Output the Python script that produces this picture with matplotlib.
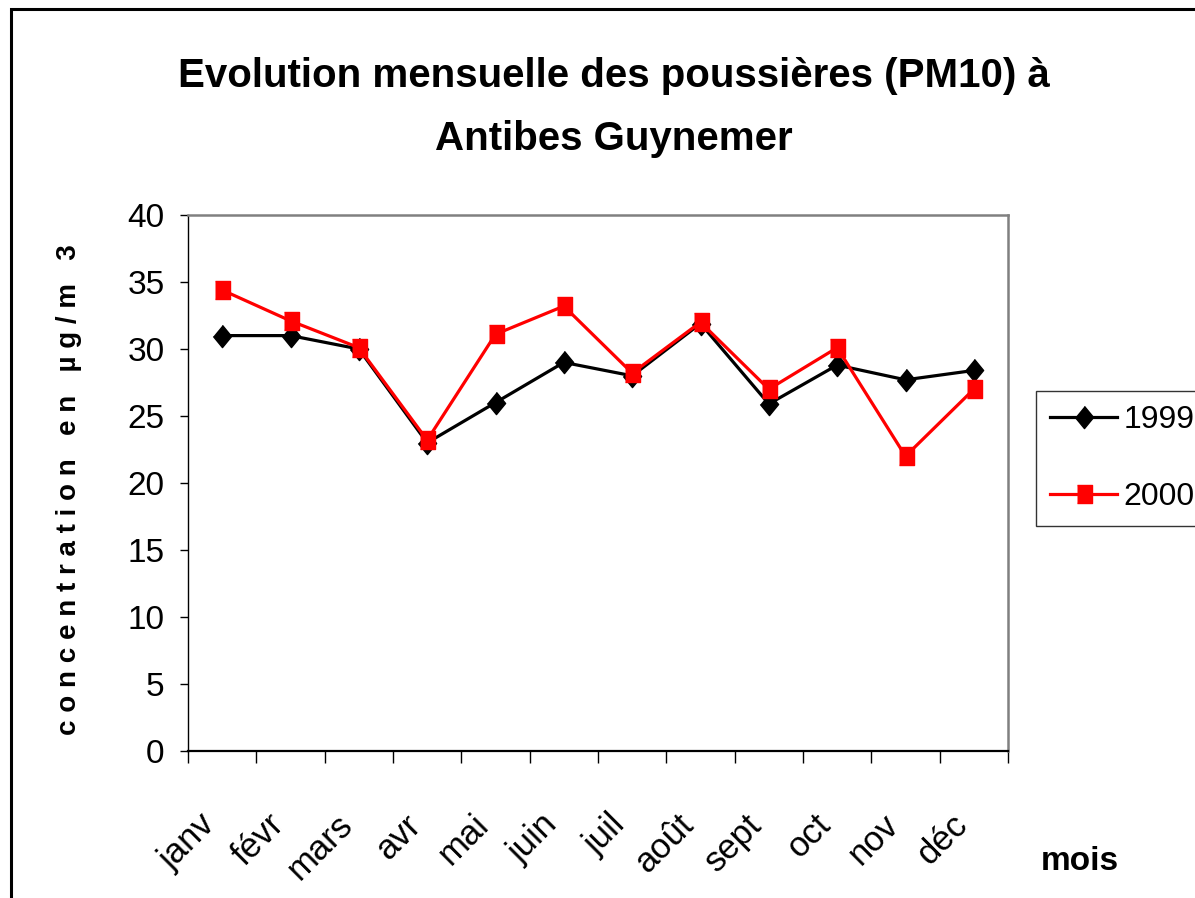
import numpy as np
import matplotlib
matplotlib.use("Agg")
import matplotlib.pyplot as plt
from matplotlib import font_manager
from matplotlib.patches import Rectangle

mois = ['janv', 'févr', 'mars', 'avr', 'mai', 'juin', 'juil', 'août', 'sept', 'oct', 'nov', 'déc']
pm10_1999 = [31.0, 31.0, 30.0, 23.0, 26.0, 29.0, 28.0, 31.9, 25.9, 28.8, 27.7, 28.4]
pm10_2000 = [34.4, 32.1, 30.1, 23.2, 31.1, 33.2, 28.2, 32.0, 27.0, 30.1, 22.0, 27.0]
yticks = [0, 5, 10, 15, 20, 25, 30, 35, 40]

# police etroite si dispo (le graphique d'origine est en Arial Narrow)
noms = {f.name for f in font_manager.fontManager.ttflist}
if 'Liberation Sans Narrow' in noms:
    etroite = ['Liberation Sans Narrow', 'DejaVu Sans']
    t_titre, t_ticks, t_xt, t_leg = 35, 26, 26, 28
else:
    etroite = ['Liberation Sans', 'DejaVu Sans']
    t_titre, t_ticks, t_xt, t_leg = 29, 24, 25, 23
large = ['Liberation Sans', 'DejaVu Sans']

fig = plt.figure(figsize=(11.95, 8.98), dpi=100)
ax = fig.add_axes([188/1195, 1-751/898, 820/1195, 536/898])

# marqueurs un peu plus hauts que larges, comme dans l'image
losange = [(0, 0.5), (0.41, 0), (0, -0.5), (-0.41, 0)]
carre = [(-0.4, -0.5), (0.4, -0.5), (0.4, 0.5), (-0.4, 0.5)]

x = np.arange(len(mois))
ax.plot(x, pm10_1999, color='black', lw=2.3, marker=losange, markersize=16,
        markerfacecolor='black', markeredgecolor='black', label='1999', zorder=3)
ax.plot(x, pm10_2000, color='red', lw=2.3, marker=carre, markersize=13.5,
        markerfacecolor='red', markeredgecolor='red', label='2000', zorder=4)

ax.set_xlim(-0.5, 11.5)
ax.set_ylim(0, 40)
ax.set_yticks(yticks)
ax.set_yticklabels([str(v) for v in yticks], family=etroite, fontsize=t_ticks)
ax.tick_params(axis='y', direction='out', length=5.8, width=1, pad=11)

ax.set_xticks(x)
ax.set_xticklabels(mois, family=etroite, fontsize=t_xt, rotation=45, ha='right')
ax.set_xticks(np.arange(-0.5, 12, 1), minor=True)
ax.tick_params(axis='x', which='major', length=0, pad=41)
ax.tick_params(axis='x', which='minor', direction='out', length=8.6, width=1)

for s in ['left', 'bottom']:
    ax.spines[s].set_color('black')
ax.spines['left'].set_linewidth(1)
ax.spines['bottom'].set_linewidth(1.6)
for s in ['top', 'right']:
    ax.spines[s].set_color('#808080')
    ax.spines[s].set_linewidth(1.8)

fig.text(614/1195, 1-57/898, 'Evolution mensuelle des poussières (PM10) à\nAntibes Guynemer',
         ha='center', va='top', family=etroite, fontsize=t_titre, fontweight='bold',
         linespacing=1.85)

fig.text(69/1195, 1-490/898, 'c o n c e n t r a t i o n   e n   µ g / m   3',
         rotation=90, ha='center', va='center', family=large, fontsize=20, fontweight='bold')

fig.text(1041/1195, 1-870/898, 'mois', ha='left', va='baseline', family=large,
         fontsize=24, fontweight='bold')

leg = fig.legend(loc='upper left', bbox_to_anchor=(1036/1195, 1-391/898),
                 prop={'family': etroite, 'size': t_leg}, frameon=True, fancybox=False,
                 handlelength=2.1, handletextpad=0.2, borderpad=0.45, labelspacing=1.45,
                 borderaxespad=0)
leg.get_frame().set_edgecolor('black')
leg.get_frame().set_linewidth(1)

# cadre exterieur
fig.patches.append(Rectangle((11.3/1195, -0.2), 1.3, 1.2 - 8.7/898, transform=fig.transFigure,
                             fill=False, edgecolor='black', lw=2.2))

fig.savefig('out.png', dpi=100)
